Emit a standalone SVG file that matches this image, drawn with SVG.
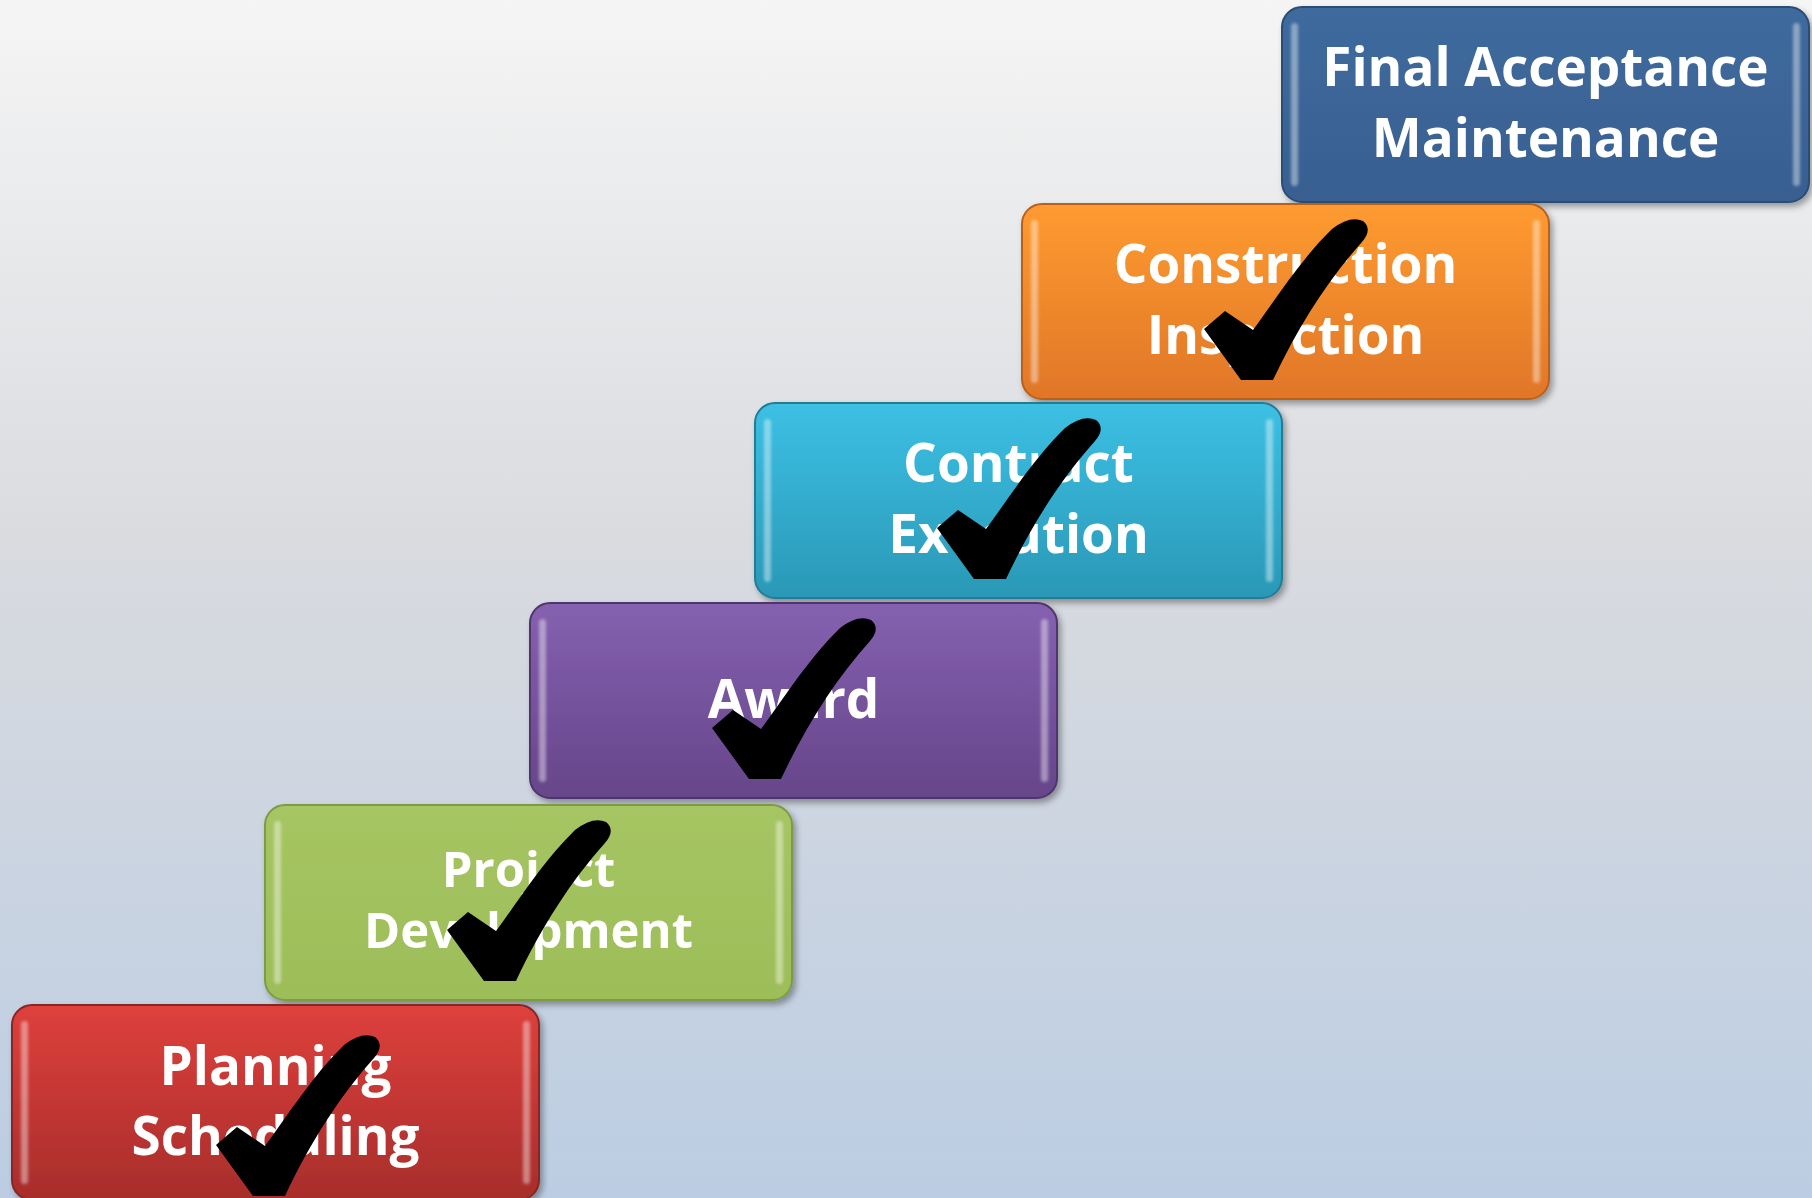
<svg xmlns="http://www.w3.org/2000/svg" xmlns:xlink="http://www.w3.org/1999/xlink" width="1812" height="1198" viewBox="0 0 1812 1198">
  <defs>
    <linearGradient id="bg" x1="0" y1="0" x2="0" y2="1">
      <stop offset="0" stop-color="#f5f5f5"/>
      <stop offset="0.45" stop-color="#d9dbdf"/>
      <stop offset="1" stop-color="#bccde3"/>
    </linearGradient>
    <linearGradient id="gBlue" x1="0" y1="0" x2="0" y2="1">
      <stop offset="0" stop-color="#3f6a9e"/>
      <stop offset="1" stop-color="#385f90"/>
    </linearGradient>
    <linearGradient id="gOrange" x1="0" y1="0" x2="0" y2="1">
      <stop offset="0" stop-color="#fe9b30"/>
      <stop offset="1" stop-color="#e07628"/>
    </linearGradient>
    <linearGradient id="gCyan" x1="0" y1="0" x2="0" y2="1">
      <stop offset="0" stop-color="#3cc0e4"/>
      <stop offset="1" stop-color="#2a98b6"/>
    </linearGradient>
    <linearGradient id="gPurple" x1="0" y1="0" x2="0" y2="1">
      <stop offset="0" stop-color="#8561b0"/>
      <stop offset="1" stop-color="#664589"/>
    </linearGradient>
    <linearGradient id="gGreen" x1="0" y1="0" x2="0" y2="1">
      <stop offset="0" stop-color="#a6c563"/>
      <stop offset="1" stop-color="#9cbd58"/>
    </linearGradient>
    <linearGradient id="gRed" x1="0" y1="0" x2="0" y2="1">
      <stop offset="0" stop-color="#de403c"/>
      <stop offset="1" stop-color="#a72d2b"/>
    </linearGradient>
    <filter id="shadow" x="-5%" y="-10%" width="112%" height="125%">
      <feDropShadow dx="3" dy="4" stdDeviation="3" flood-color="#000" flood-opacity="0.35"/>
    </filter>
    <filter id="soft" x="-50%" y="-10%" width="200%" height="120%">
      <feGaussianBlur stdDeviation="1.5"/>
    </filter>
    <path id="check" d="M182,125 L203,107 L231,126 C254,95 279,55 310,25 Q328,11 341,17 Q351,25 340,38 C306,76 277,121 251,176 L219,176 Z"/>
    <g id="hl">
      <rect x="9" y="16" width="7" height="163" rx="3.5" fill="#ffffff" opacity="0.4" filter="url(#soft)"/>
      <rect x="511" y="16" width="7" height="163" rx="3.5" fill="#ffffff" opacity="0.4" filter="url(#soft)"/>
    </g>
  </defs>
  <style>
    .box { stroke-width: 2; filter: url(#shadow); }
    .lbl { font-family: "Open Sans", "Noto Sans", "Liberation Sans", sans-serif; font-weight: 700; font-size: 53px; fill: #ffffff; text-anchor: middle; }
    .chk { fill: #000000; }
  </style>
  <rect x="0" y="0" width="1812" height="1198" fill="url(#bg)"/>

  <g id="connectors"></g>

  <g id="node-final" transform="translate(1282,7)">
    <rect class="box" x="0" y="0" width="527" height="195" rx="20" fill="url(#gBlue)" stroke="#2c4d75"/>
    <use xlink:href="#hl" href="#hl"/>
    <text class="lbl" x="263.5" y="79">Final Acceptance</text>
    <text class="lbl" x="263.5" y="150">Maintenance</text>
  </g>

  <g id="node-construction" transform="translate(1022,204)">
    <rect class="box" x="0" y="0" width="527" height="195" rx="20" fill="url(#gOrange)" stroke="#b8601e"/>
    <use xlink:href="#hl" href="#hl"/>
    <text class="lbl" x="263.5" y="79">Construction</text>
    <text class="lbl" x="263.5" y="150">Inspection</text>
    <use class="chk" xlink:href="#check" href="#check"/>
  </g>

  <g id="node-contract" transform="translate(755,403)">
    <rect class="box" x="0" y="0" width="527" height="195" rx="20" fill="url(#gCyan)" stroke="#217b94"/>
    <use xlink:href="#hl" href="#hl"/>
    <text class="lbl" x="263.5" y="79">Contract</text>
    <text class="lbl" x="263.5" y="150">Execution</text>
    <use class="chk" xlink:href="#check" href="#check"/>
  </g>

  <g id="node-award" transform="translate(530,603)">
    <rect class="box" x="0" y="0" width="527" height="195" rx="20" fill="url(#gPurple)" stroke="#4f356d"/>
    <use xlink:href="#hl" href="#hl"/>
    <text class="lbl" x="263.5" y="115">Award</text>
    <use class="chk" xlink:href="#check" href="#check"/>
  </g>

  <g id="node-project" transform="translate(265,805)">
    <rect class="box" x="0" y="0" width="527" height="195" rx="20" fill="url(#gGreen)" stroke="#7d9a45"/>
    <use xlink:href="#hl" href="#hl"/>
    <text class="lbl" x="263.5" y="82" style="font-size:49px">Project</text>
    <text class="lbl" x="263.5" y="143" style="font-size:49px">Development</text>
    <use class="chk" xlink:href="#check" href="#check"/>
  </g>

  <g id="node-planning" transform="translate(12,1005)">
    <rect class="box" x="0" y="0" width="527" height="195" rx="20" fill="url(#gRed)" stroke="#8a2523"/>
    <use xlink:href="#hl" href="#hl"/>
    <text class="lbl" x="263.5" y="80">Planning</text>
    <text class="lbl" x="263.5" y="150">Scheduling</text>
    <use class="chk" xlink:href="#check" href="#check" transform="translate(22,15)"/>
  </g>
</svg>
